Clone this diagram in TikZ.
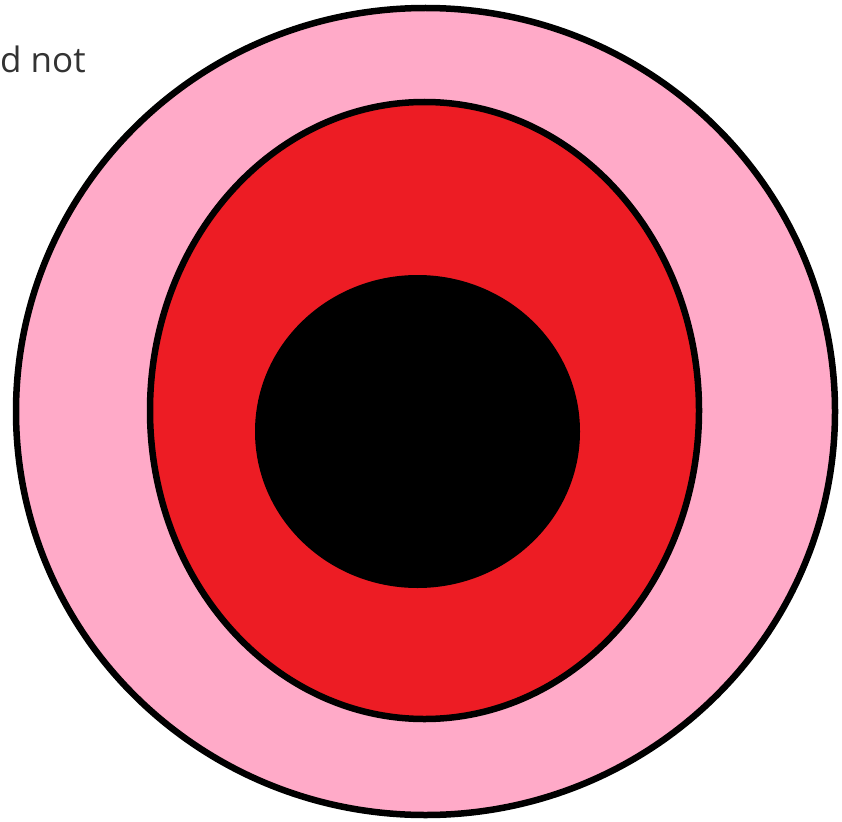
\documentclass[tikz,border=0pt]{standalone}
\usepackage{fontspec}
\setmainfont{Open Sans}
\definecolor{rosefill}{HTML}{FFAAC8}
\definecolor{redfill}{HTML}{ED1C24}
\definecolor{txtgray}{HTML}{333333}
\tikzset{
  ring/.style={draw=black, line width=6.5pt},
}
\begin{document}
\begin{tikzpicture}[x=1pt,y=-1pt]
\useasboundingbox (0,0) rectangle (842,821);
\clip (0,0) rectangle (842,821);
\fill[white] (0,0) rectangle (842,821);
\path[ring, fill=rosefill] (425.5,411.5) ellipse [x radius=409.5, y radius=403.5];
\path[ring, fill=redfill] (424.5,410.5) ellipse [x radius=274.5, y radius=308.5];
\fill[black] (417.5,431.5) ellipse [x radius=162.5, y radius=156.5];
\node[anchor=base west, inner sep=0pt, text=txtgray, font=\fontsize{35}{40}\selectfont] (lbl) at (0,73) {d not};
\end{tikzpicture}
\end{document}
